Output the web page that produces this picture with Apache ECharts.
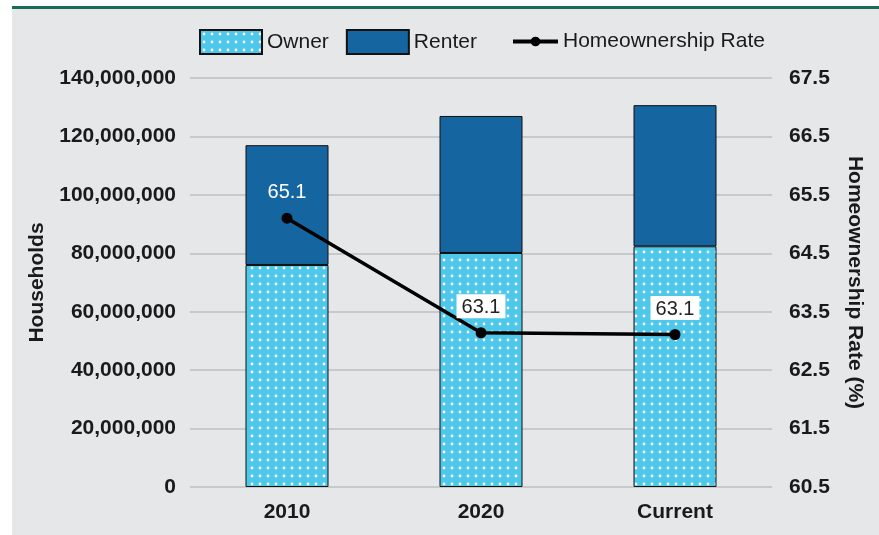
<!DOCTYPE html>
<html>
<head>
<meta charset="utf-8">
<script src="https://cdn.jsdelivr.net/npm/echarts@6/dist/echarts.min.js"></script>
<style>
  html, body { margin: 0; padding: 0; background: #ffffff; }
  #panel {
    position: absolute; left: 12px; top: 6px; width: 867px; height: 526px;
    background: #e6e7e8; border-top: 3px solid #1b6b5b;
  }
  #chart { position: absolute; left: 0; top: 0; width: 879px; height: 535px; }
</style>
</head>
<body>
<div id="panel"></div>
<div id="chart"></div>
<script>
// chart data
var categories = ["2010", "2020", "Current"];
var ownerValues = [76000000, 80100000, 82400000];
var renterValues = [41000000, 46900000, 48300000];
var rateValues = [65.1, 63.14, 63.11];

// dotted fill for owner bars
function dotPattern() {
  var c = document.createElement("canvas");
  c.width = 8;
  c.height = 8;
  var ctx = c.getContext("2d");
  ctx.fillStyle = "#4dc8ea";
  ctx.fillRect(0, 0, 8, 8);
  ctx.fillStyle = "#ffffff";
  ctx.beginPath();
  ctx.arc(4, 4, 1.4, 0, Math.PI * 2);
  ctx.fill();
  return c;
}

var font = "Liberation Sans, Arial, sans-serif";
var axisLabelStyle = { color: "#1a1a1a", fontSize: 21, fontWeight: "bold", fontFamily: font };
var legendText = { color: "#1a1a1a", fontSize: 21, fontFamily: font };

var myChart = echarts.init(document.getElementById("chart"));
myChart.setOption({
  backgroundColor: "transparent",
  animation: false,
  legend: [
    {
      left: 194,
      top: 24,
      icon: "rect",
      itemWidth: 62,
      itemHeight: 24,
      itemGap: 17,
      textStyle: legendText,
      data: ["Owner", "Renter"]
    },
    {
      left: 506,
      top: 26,
      itemWidth: 45,
      itemHeight: 12,
      lineStyle: { width: 4 },
      textStyle: legendText,
      data: ["Homeownership Rate"]
    }
  ],
  grid: { left: 190, right: 107, top: 78, bottom: 48 },
  xAxis: {
    type: "category",
    data: categories,
    axisLine: { show: false },
    axisTick: { show: false },
    axisLabel: Object.assign({ margin: 15 }, axisLabelStyle)
  },
  yAxis: [
    {
      type: "value",
      min: 0,
      max: 140000000,
      interval: 20000000,
      name: "Households",
      nameLocation: "middle",
      nameGap: 142,
      nameTextStyle: axisLabelStyle,
      axisLabel: Object.assign({
        margin: 14,
        formatter: function (v) { return v.toLocaleString("en-US"); }
      }, axisLabelStyle),
      splitLine: { lineStyle: { color: "#c8c9cb", width: 2 } }
    },
    {
      type: "value",
      min: 60.5,
      max: 67.5,
      interval: 1,
      name: "Homeownership Rate (%)",
      nameLocation: "middle",
      nameGap: 72,
      nameRotate: -90,
      nameTextStyle: axisLabelStyle,
      axisLabel: Object.assign({
        margin: 17,
        formatter: function (v) { return v.toFixed(1); }
      }, axisLabelStyle),
      splitLine: { show: false }
    }
  ],
  series: [
    {
      name: "Owner",
      type: "bar",
      stack: "hh",
      barWidth: 83,
      data: ownerValues,
      itemStyle: {
        color: { image: dotPattern(), repeat: "repeat" },
        borderColor: "#111111",
        borderWidth: 1
      }
    },
    {
      name: "Renter",
      type: "bar",
      stack: "hh",
      barWidth: 83,
      data: renterValues,
      itemStyle: { color: "#1565a0", borderColor: "#111111", borderWidth: 1 }
    },
    {
      name: "Homeownership Rate",
      type: "line",
      yAxisIndex: 1,
      symbol: "circle",
      symbolSize: 11,
      data: rateValues.map(function (v, i) {
        if (i === 0) {
          return { value: v, label: { color: "#ffffff", backgroundColor: "transparent" } };
        }
        return v;
      }),
      lineStyle: { color: "#000000", width: 3.5 },
      itemStyle: { color: "#000000" },
      label: {
        show: true,
        position: "top",
        distance: 9,
        fontSize: 20,
        fontFamily: font,
        color: "#222222",
        backgroundColor: "#ffffff",
        padding: [3, 5, 1, 5],
        formatter: function (p) { return p.value.toFixed(1); }
      }
    }
  ]
});
</script>
</body>
</html>
